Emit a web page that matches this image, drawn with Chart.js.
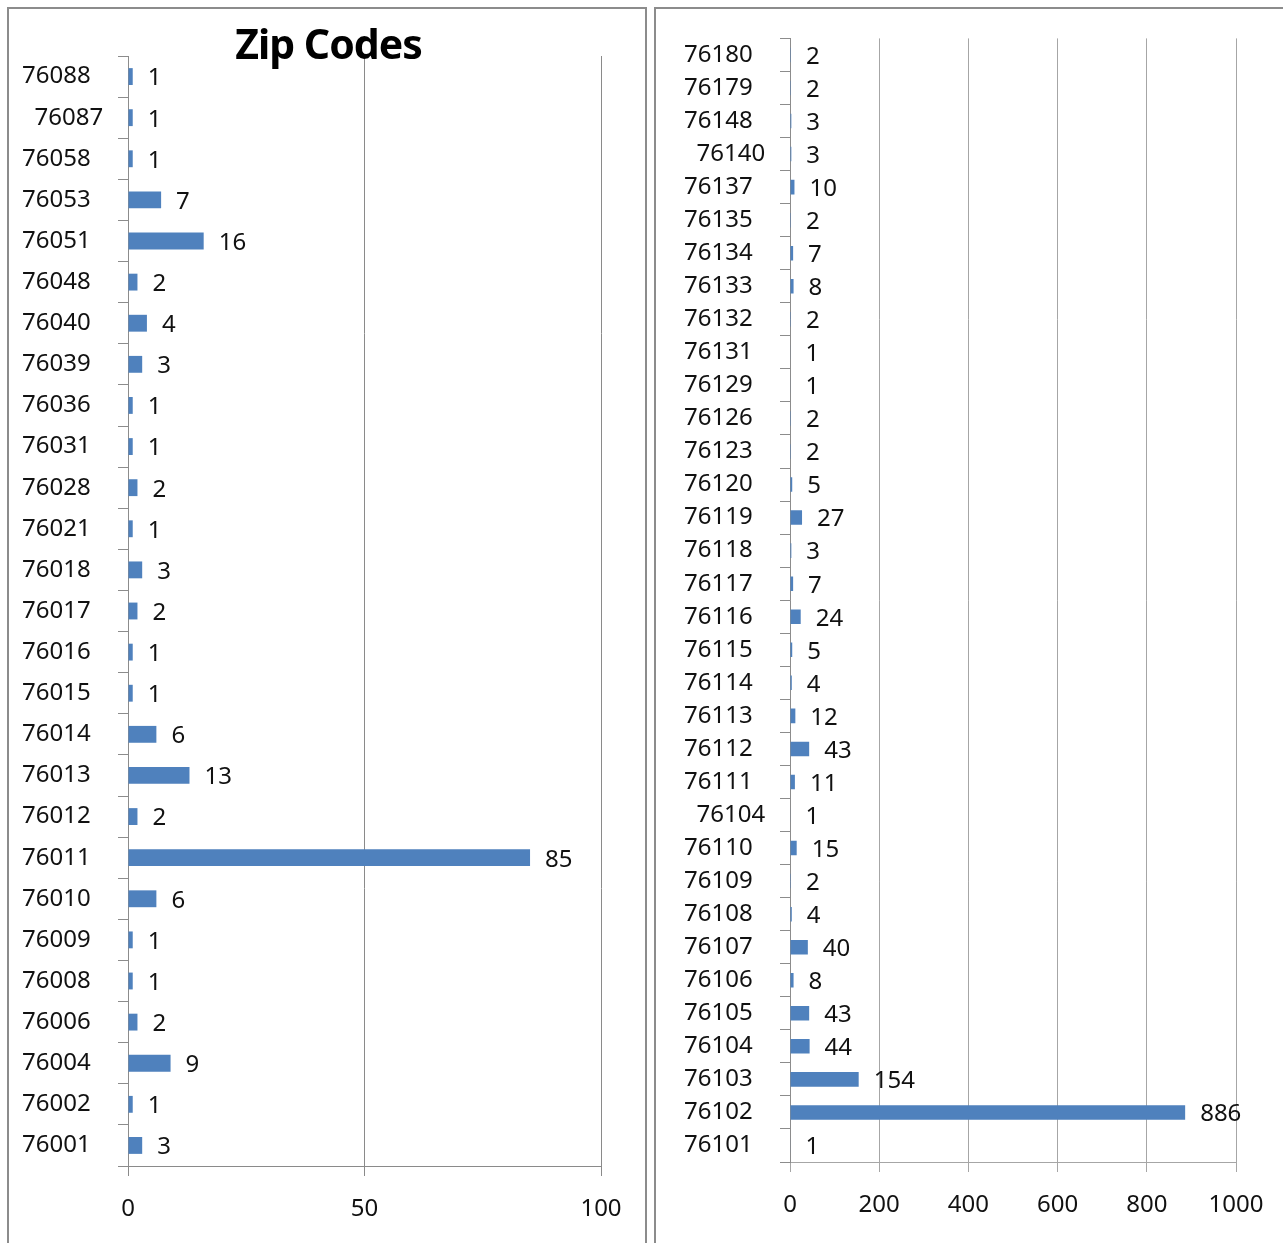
<!DOCTYPE html>
<html>
<head>
<meta charset="utf-8">
<script src="https://cdn.jsdelivr.net/npm/chart.js@4.4.1/dist/chart.umd.min.js"></script>
<style>
  html,body{margin:0;padding:0;background:#fff;width:1283px;height:1243px;overflow:hidden;font-family:"Noto Sans",sans-serif;}
  .panel{position:absolute;border:2px solid #8c8c8c;box-sizing:border-box;}
  .box{position:absolute;}
  #title{position:absolute;left:10px;width:637px;top:15px;text-align:center;font:bold 41px "Noto Sans",sans-serif;color:#000;pointer-events:none;letter-spacing:-1px;}
</style>
</head>
<body>
<div class="panel" style="left:7px;top:7px;width:640px;height:1250px;"></div>
<div class="panel" style="left:654px;top:7px;width:640px;height:1250px;"></div>
<div class="box" style="left:9px;top:10px;width:636px;height:1233px;"><canvas id="cLeft"></canvas></div>
<div class="box" style="left:657px;top:10px;width:626px;height:1233px;"><canvas id="cRight"></canvas></div>
<div id="title">Zip Codes</div>
<script>
// left panel: 760xx zips
const zipsLeft=['76088','  76087','76058','76053','76051','76048','76040','76039','76036','76031','76028','76021','76018','76017','76016','76015','76014','76013','76012','76011','76010','76009','76008','76006','76004','76002','76001'];
const countsLeft=[1,1,1,7,16,2,4,3,1,1,2,1,3,2,1,1,6,13,2,85,6,1,1,2,9,1,3];
const ticksLeft=[0,50,100];

// right panel: 761xx zips
const zipsRight=['76180','76179','76148','  76140','76137','76135','76134','76133','76132','76131','76129','76126','76123','76120','76119','76118','76117','76116','76115','76114','76113','76112','76111','  76104','76110','76109','76108','76107','76106','76105','76104','76103','76102','76101'];
const countsRight=[2,2,3,3,10,2,7,8,2,1,1,2,2,5,27,3,7,24,5,4,12,43,11,1,15,2,4,40,8,43,44,154,886,1];
const ticksRight=[0,200,400,600,800,1000];

const BLUE='#4F81BD', TXT='#111';
const FONT={family:'"Noto Sans", sans-serif',size:24};

// value labels next to bar end
const valueLabels={
  id:'valueLabels',
  afterDatasetsDraw(chart){
    const ctx=chart.ctx, meta=chart.getDatasetMeta(0), data=chart.data.datasets[0].data;
    ctx.save();
    ctx.font='24px "Noto Sans", sans-serif';
    ctx.fillStyle=TXT; ctx.textAlign='left'; ctx.textBaseline='middle';
    meta.data.forEach((el,i)=>ctx.fillText(String(data[i]),el.x+15,el.y+2));
    ctx.restore();
  }
};

function makeChart(id,labels,values,ticks,o){
  return new Chart(document.getElementById(id),{
    type:'bar',
    data:{labels:labels,datasets:[{data:values,backgroundColor:BLUE,borderWidth:0,
      categoryPercentage:1,barPercentage:o.bar}]},
    options:{
      indexAxis:'y',responsive:true,maintainAspectRatio:false,animation:false,
      layout:{padding:o.pad},
      plugins:{legend:{display:false},tooltip:{enabled:false},title:{display:false}},
      scales:{
        x:{type:'linear',position:'bottom',min:ticks[0],max:ticks[ticks.length-1],
          afterBuildTicks:s=>{s.ticks=ticks.map(v=>({value:v}));},
          afterFit:s=>{s.height=62;},
          grid:{color:o.grid,lineWidth:1,drawTicks:true,tickLength:10,tickColor:o.grid},
          border:{display:true,color:o.grid},
          ticks:{color:TXT,font:FONT,padding:19,maxRotation:0,autoSkip:false,callback:v=>String(v)}},
        y:{type:'category',position:'left',offset:true,
          afterFit:s=>{s.width=106;},
          grid:{offset:true,drawOnChartArea:false,drawTicks:true,tickLength:10,color:'#8c8c8c'},
          border:{display:true,color:'#8c8c8c'},
          ticks:{color:TXT,font:FONT,crossAlign:'far',autoSkip:false,padding:14}}
      }
    },
    plugins:[valueLabels]
  });
}

makeChart('cLeft',zipsLeft,countsLeft,ticksLeft,{bar:0.41,grid:'#8a8a8a',pad:{left:13,top:46,right:44,bottom:15}});
makeChart('cRight',zipsRight,countsRight,ticksRight,{bar:0.44,grid:'#a6a6a6',pad:{left:27,top:27,right:47,bottom:19}});
</script>
</body>
</html>
